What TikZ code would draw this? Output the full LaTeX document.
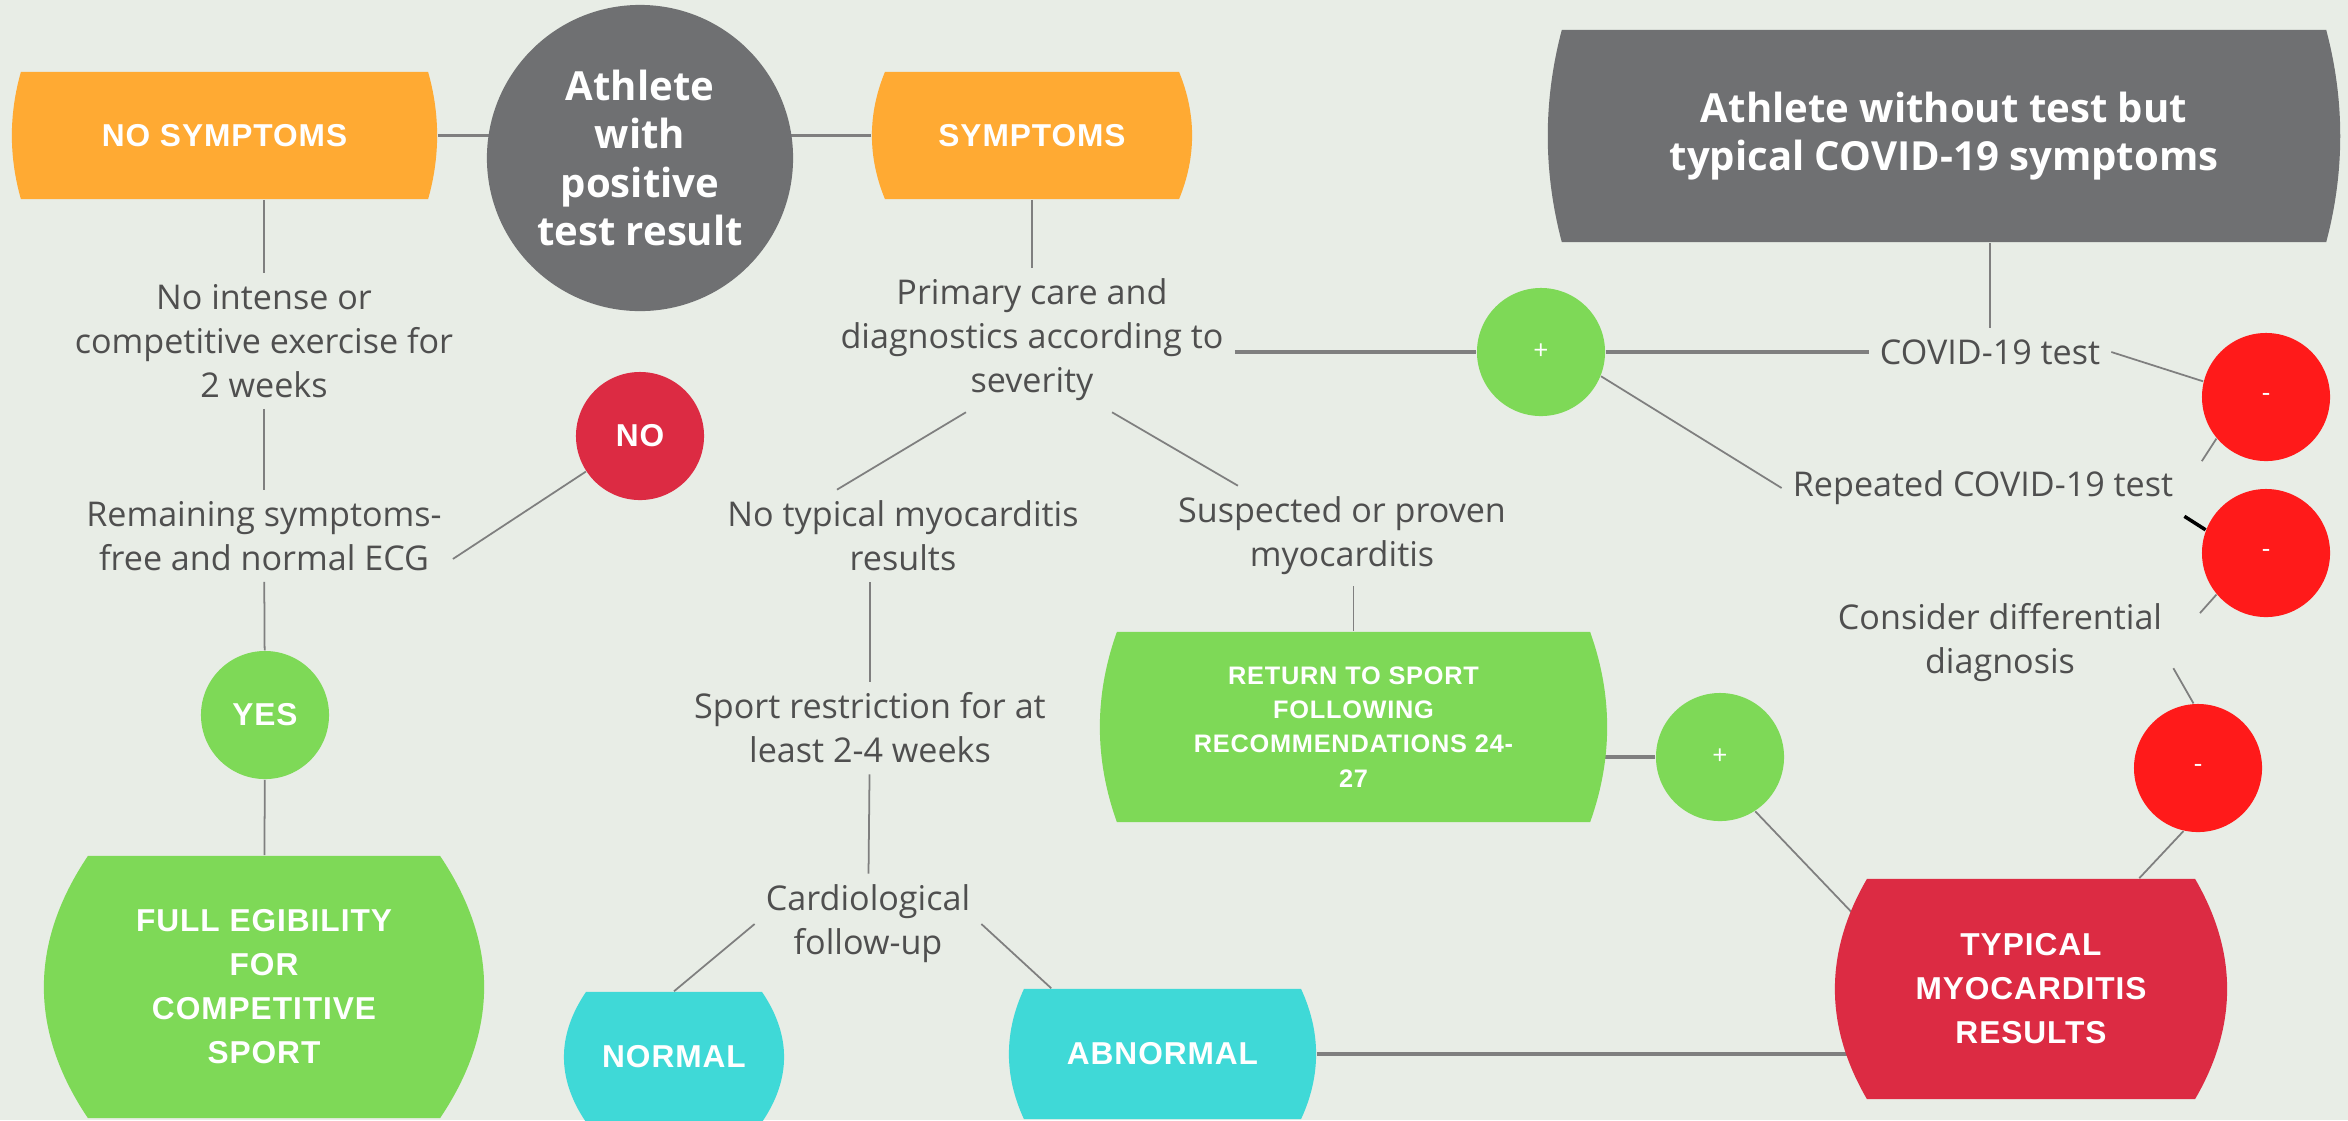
\documentclass[tikz,border=0pt]{standalone}
\usepackage{fontspec}
\setmainfont{Open Sans}
\newfontfamily\capsfont[LetterSpace=3]{Liberation Sans}
\usetikzlibrary{calc,backgrounds}

\definecolor{bgcol}{HTML}{E8EDE6}
\definecolor{orangebox}{HTML}{FFAA33}
\definecolor{greybox}{HTML}{6F7072}
\definecolor{greenbox}{HTML}{7ED957}
\definecolor{crimson}{HTML}{DC2B43}
\definecolor{redbright}{HTML}{FF1A1A}
\definecolor{cyanbox}{HTML}{3FD9D7}
\definecolor{linecol}{HTML}{7F7F7F}
\definecolor{textcol}{HTML}{4F4F4F}

\tikzset{
  note/.style={align=center, inner sep=3pt, text=textcol, font=\fontsize{9.7}{12.5}\selectfont},
  caps/.style={font=\capsfont\bfseries\fontsize{9}{12.5}\selectfont},
  title/.style={font=\bfseries\fontsize{11.4}{13.7}\selectfont, text=white, align=center},
  dot/.style={circle, fill=#1, minimum size=1.28cm, inner sep=0pt, text=white},
  sign/.style={dot=#1, font=\fontsize{7.5}{9}\selectfont},
  barrel/.style n args={4}{rectangle, inner sep=0pt, minimum width=#2, minimum height=#3,
    text=white, align=center,
    path picture={
      \fill[#1] ([xshift=#4]path picture bounding box.north west)
        -- ([xshift=-#4]path picture bounding box.north east)
        .. controls ($(path picture bounding box.north east)!0.333!(path picture bounding box.south east)+(#4/3,0pt)$)
        and ($(path picture bounding box.north east)!0.667!(path picture bounding box.south east)+(#4/3,0pt)$)
        .. ([xshift=-#4]path picture bounding box.south east)
        -- ([xshift=#4]path picture bounding box.south west)
        .. controls ($(path picture bounding box.south west)!0.333!(path picture bounding box.north west)-(#4/3,0pt)$)
        and ($(path picture bounding box.south west)!0.667!(path picture bounding box.north west)-(#4/3,0pt)$)
        .. cycle;
    }},
  wire/.style={linecol, line width=0.5pt},
  thickwire/.style={linecol, line width=0.9pt}
}

\begin{document}
\begin{tikzpicture}[x=0.01cm, y=-0.01cm]
  \useasboundingbox (0,0) rectangle (2348,1120);

  % Boxes
  \node[barrel={orangebox}{4.25cm}{1.27cm}{0.09cm}, caps] (nosym) at (224.5,135.5) {NO SYMPTOMS};
  \node[dot=greybox, minimum size=3.06cm, title] (athlete) at (640,158) {Athlete\\with\\positive\\test result};
  \node[barrel={orangebox}{3.2cm}{1.27cm}{0.13cm}, caps] (sym) at (1032,135.5) {SYMPTOMS};
  \node[barrel={greybox}{7.92cm}{2.12cm}{0.14cm}, title] (covidsym) at (1944,136) {Athlete without test but\\typical COVID-19 symptoms};
  \node[barrel={greenbox}{4.4cm}{2.62cm}{0.44cm}, caps] (full) at (264,987) {FULL EGIBILITY\\FOR\\COMPETITIVE\\SPORT};
  \node[barrel={greenbox}{5.07cm}{1.9cm}{0.17cm}, caps, font=\capsfont\bfseries\fontsize{7.2}{9.7}\selectfont] (ret) at (1353.5,727) {RETURN TO SPORT\\FOLLOWING\\RECOMMENDATIONS 24-\\27};
  \node[barrel={cyanbox}{2.2cm}{1.3cm}{0.22cm}, caps] (normal) at (674,1057) {NORMAL};
  \node[barrel={cyanbox}{3.07cm}{1.3cm}{0.15cm}, caps] (abnormal) at (1162.5,1054) {ABNORMAL};
  \node[barrel={crimson}{3.92cm}{2.2cm}{0.32cm}, caps] (typical) at (2031,989) {TYPICAL\\MYOCARDITIS\\RESULTS};

  % Circles
  \node[dot=crimson, caps] (no) at (640,436) {NO};
  \node[dot=greenbox, caps] (yes) at (265,715) {YES};
  \node[sign=greenbox] (plusA) at (1541,352) {+};
  \node[sign=greenbox] (plusB) at (1720,757) {+};
  \node[sign=redbright] (minusA) at (2266,397) {-};
  \node[sign=redbright] (minusB) at (2266,553) {-};
  \node[sign=redbright] (minusC) at (2198,768) {-};

  % Texts
  \node[note] (noint) at (264,341) {No intense or\\competitive exercise for\\2 weeks};
  \node[note] (remain) at (264,536) {Remaining symptoms-\\free and normal ECG};
  \node[note] (primary) at (1032,340) {Primary care and\\diagnostics according to\\severity};
  \node[note] (notyp) at (903,536) {No typical myocarditis\\results};
  \node[note] (suspect) at (1342,536) {Suspected or proven\\myocarditis};
  \node[note] (restrict) at (870,728) {Sport restriction for at\\least 2-4 weeks};
  \node[note] (cardio) at (868,924) {Cardiological\\follow-up};
  \node[note] (covtest) at (1990,352) {COVID-19 test};
  \node[note] (repeat) at (1983,488) {Repeated COVID-19 test};
  \node[note] (differ) at (2000,643) {Consider differential\\diagnosis};

  \begin{scope}[on background layer]
    \fill[bgcol] (0,0) rectangle (2348,1120);

    % Left branch
    \draw[thickwire] (nosym) -- (nosym -| athlete);
    \draw[wire] (noint.north |- nosym.south) -- (noint);
    \draw[wire] (noint) -- (remain);
    \draw[wire] (remain) -- (yes);
    \draw[wire] (yes) -- (full);
    \draw[wire] (no) -- ($(remain.east)!0.5!(remain.south east)$);

    % Middle branch
    \draw[thickwire] (sym) -- (sym -| athlete);
    \draw[wire] (sym) -- (primary);
    \draw[wire] ([xshift=-0.66cm]primary.south) -- ([xshift=-0.66cm]notyp.north);
    \draw[wire] ([xshift=0.8cm]primary.south) -- ([xshift=-1.04cm]suspect.north);
    \draw[wire] (ret.north |- suspect.south) -- (ret.north);
    \draw[wire] (restrict.north |- notyp.south) -- (restrict);
    \draw[wire] (restrict) -- (cardio);
    \draw[wire] (cardio.west) -- (normal.north);
    \draw[wire] (cardio.east) -- ([xshift=0.43cm]abnormal.north west);
    \draw[thickwire] (abnormal) -- (abnormal -| typical);

    % Right branch
    \draw[thickwire] (primary.east |- plusA) -- (plusA);
    \draw[thickwire] (plusA) -- (covtest);
    \draw[wire] (covtest.north |- covidsym.south) -- (covtest);
    \draw[wire] (plusA.-22) -- (repeat.west);
    \draw[wire] (covtest.east) -- (minusA.166);
    \draw[wire, shorten >=0.32cm] (minusA.220) -- (repeat.east);
    \draw[black, line width=1pt] (repeat.south east) -- (minusB.159);
    \draw[wire, shorten >=0.4cm] (minusB.220) -- (differ.east);
    \draw[wire] ($(differ.east)!0.5!(differ.south east)$) -- (minusC.94);
    \draw[wire] (minusC.-103) -- ($(typical.north)!0.55!(typical.north east)$);
    \draw[thickwire] (plusB) -- (plusB -| ret);
    \draw[wire] (plusB.-57) -- ($(typical.west)!0.3!(typical.north)$);
  \end{scope}
\end{tikzpicture}
\end{document}
